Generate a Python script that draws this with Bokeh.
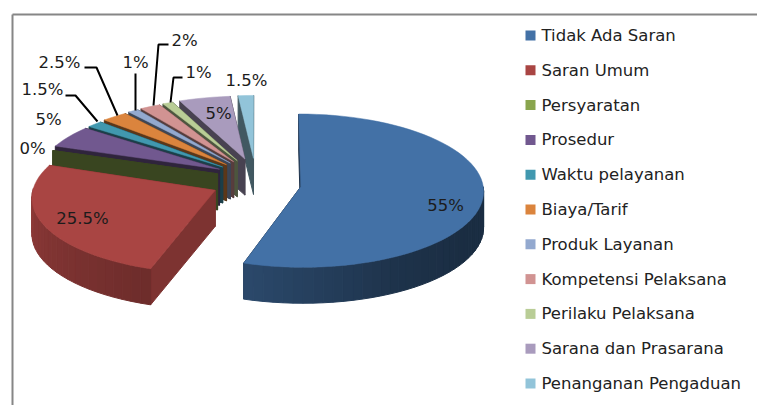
import math
from bokeh.plotting import figure
from bokeh.models import Range1d, ColumnDataSource
from bokeh.core.properties import value
from bokeh.embed import file_html
from bokeh.resources import INLINE

categories = ["Tidak Ada Saran", "Saran Umum", "Persyaratan", "Prosedur", "Waktu pelayanan",
              "Biaya/Tarif", "Produk Layanan", "Kompetensi Pelaksana", "Perilaku Pelaksana",
              "Sarana dan Prasarana", "Penanganan Pengaduan"]
values = [55, 25.5, 0, 5, 1.5, 2.5, 1, 2, 1, 5, 1.5]
colors = ["#4371A6", "#A94543", "#89A54E", "#71588F", "#4198AF", "#DB843D",
          "#93A9CF", "#D19392", "#B9CD96", "#A99BBD", "#92C4D9"]

# layout of the 3D projection (page pixels)
CX, CY, A, B, K = 255, 183, 183, 72, 0.082
EX, EY = 0.24, 0.36
DEPTH = 36
# per-slice adjustments of the projection: (dx, dy, A, B, K)
TWEAK = {0: (2, -1, 182, 76, 0.05), 1: (-1, -5, 180, 74, 0.082),
         2: (3, -1, A, B, K), 3: (2, -2, A, B, K)}
CUT_SHADE = [0.45, 0.74, 0.42, 0.42, 0.42, 0.42, 0.42, 0.42, 0.42, 0.43, 0.45]
SHADE_T = [90, 120, 150, 198, 260, 290]
SHADE_F = [.40, .40, .45, .65, .82, .85]
FONT = "DejaVu Sans"
label_pos = [(445, 205), (82, 218), (32, 148), (48, 119), (42, 89), (59, 62), (135, 62),
             (184, 40), (198, 72), (218, 113), (246, 80)]
leaders = {4: [(65, 95), (75, 95), (97, 121)], 5: [(84, 67), (96, 67), (117, 115)],
           6: [(135, 73), (135, 110)], 7: [(168, 44), (158, 44), (153, 105)],
           8: [(182, 77), (173, 77), (170, 102)]}


def shade(hex_color, f):
    r, g, b = (int(hex_color[i:i + 2], 16) for i in (1, 3, 5))
    return "#%02x%02x%02x" % (int(r * f), int(g * f), int(b * f))


def interp(t, xs, ys):
    if t <= xs[0]:
        return ys[0]
    for i in range(1, len(xs)):
        if t <= xs[i]:
            return ys[i - 1] + (ys[i] - ys[i - 1]) * (t - xs[i - 1]) / (xs[i] - xs[i - 1])
    return ys[-1]


def project(X, Y, tw):
    dx, dy, a, b, k = tw
    w = 1 + k * Y
    return CX + dx + a * X / w, CY + dy - b * Y / w


p = figure(width=757, height=405, x_range=Range1d(0, 757), y_range=Range1d(405, 0),
           output_backend="svg", toolbar_location=None, min_border=0,
           outline_line_color=None, background_fill_color="white")
p.axis.visible = False
p.grid.visible = False

p.line([12, 757], [14, 14], line_color="#868686", line_width=2)
p.line([12, 12], [14, 405], line_color="#868686", line_width=2)

starts, ends = [], []
acc = 0.0
for v in values:
    starts.append(acc * 3.6)
    acc += v
    ends.append(acc * 3.6)

for i in reversed(range(len(values))):
    t0, t1 = starts[i], ends[i]
    tw = TWEAK.get(i, (0, 0, A, B, K))
    mid = math.radians((t0 + t1) / 2)
    X0, Y0 = EX * math.sin(mid), EY * math.cos(mid)

    def rim(t):
        r = math.radians(t)
        return project(X0 + math.sin(r), Y0 + math.cos(r), tw)

    ax, ay = project(X0, Y0, tw)
    xs, ys, fills = [], [], []
    cut = shade(colors[i], CUT_SHADE[i])
    for t in (t1, t0):
        ox, oy = rim(t)
        xs.append([ax, ox, ox, ax])
        ys.append([ay, oy, oy + DEPTH, ay + DEPTH])
        fills.append(cut)
    n = max(1, int((t1 - t0) / 3))
    for k in range(n):
        a = t0 + (t1 - t0) * k / n
        b = t0 + (t1 - t0) * (k + 1) / n
        if 90 <= (a + b) / 2 <= 272:
            (x1, y1), (x2, y2) = rim(a), rim(b)
            xs.append([x1, x2, x2, x1])
            ys.append([y1, y2, y2 + DEPTH, y1 + DEPTH])
            fills.append(shade(colors[i], interp((a + b) / 2, SHADE_T, SHADE_F)))
    src = ColumnDataSource(dict(xs=xs, ys=ys, c=fills))
    p.patches("xs", "ys", source=src, fill_color="c", line_color="c", line_width=1)
    if t1 > t0:
        pts = [rim(t0 + (t1 - t0) * k / max(2, n)) for k in range(max(2, n) + 1)]
        p.patch([ax] + [q[0] for q in pts], [ay] + [q[1] for q in pts],
                fill_color=colors[i], line_color=colors[i], line_width=0.5)

for pts in leaders.values():
    p.line([q[0] for q in pts], [q[1] for q in pts], line_color="#000000", line_width=2)

labels = [f"{v:g}%" for v in values]
p.text([q[0] for q in label_pos], [q[1] for q in label_pos], text=labels,
       text_font=value(FONT), text_font_size="16.5px",
       text_align="center", text_baseline="middle", text_color="#1c1c1c")

LEG_Y0, LEG_STEP = 35, 34.8
leg_y = [LEG_Y0 + i * LEG_STEP for i in range(len(categories))]
p.scatter([530] * len(categories), leg_y, marker="square", size=10, fill_color=colors, line_color=None)
p.text([541] * len(categories), leg_y, text=categories, text_font=value(FONT),
       text_font_size="16.5px", text_align="left", text_baseline="middle", text_color="#222222")

open("out.html", "w").write(file_html(p, INLINE))
